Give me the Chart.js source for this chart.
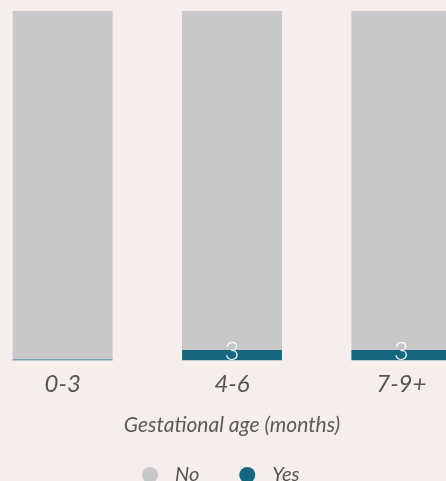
<!DOCTYPE html>
<html>
<head>
<meta charset="utf-8">
<script src="https://cdn.jsdelivr.net/npm/chart.js@4.4.1/dist/chart.umd.min.js"></script>
<style>
  html, body { margin: 0; padding: 0; background: #f5eeeb; overflow: hidden; width: 446px; height: 481px; }
  #wrap { position: absolute; left: -22px; top: 0; width: 508px; height: 481px; }
</style>
</head>
<body>
<div id="wrap"><canvas id="chart" width="508" height="481"></canvas></div>
<script>
// Share of pregnancies by gestational age (percent, each bar sums to 100)
const categories = ['0-3', '4-6', '7-9+'];
const seriesNames = ['No', 'Yes'];
const noValues = [99.7, 97, 97];
const yesValues = [0.3, 3, 3];

const COLOR_NO = '#c8c8cb';
const COLOR_YES = '#14677f';
const TEXT_COLOR = '#555555';

// Writes the rounded "Yes" share at the base of each bar
const yesLabels = {
  id: 'yesLabels',
  afterDatasetsDraw(chart) {
    const ctx = chart.ctx;
    const meta = chart.getDatasetMeta(0);
    ctx.save();
    ctx.font = '300 25px Lato';
    ctx.fillStyle = '#ffffff';
    ctx.textAlign = 'center';
    ctx.textBaseline = 'alphabetic';
    meta.data.forEach((bar, i) => {
      const v = Math.round(yesValues[i]);
      if (v < 1) return;
      ctx.fillText(String(v), bar.x, bar.base - 0.5);
    });
    ctx.restore();
  }
};

// Legend row: circle marker followed by the series name
const dotLegend = {
  id: 'dotLegend',
  afterDraw(chart) {
    const ctx = chart.ctx;
    const area = chart.chartArea;
    const items = [
      { text: seriesNames[0], color: COLOR_NO },
      { text: seriesNames[1], color: COLOR_YES }
    ];
    const cy = 475;
    let x = (area.left + area.right) / 2 - 90;
    ctx.save();
    ctx.font = 'italic 20px Lato';
    ctx.textBaseline = 'alphabetic';
    ctx.textAlign = 'left';
    items.forEach(item => {
      ctx.beginPath();
      ctx.arc(x + 8, cy, 8, 0, Math.PI * 2);
      ctx.fillStyle = item.color;
      ctx.fill();
      ctx.fillStyle = TEXT_COLOR;
      ctx.fillText(item.text, x + 33, cy + 6);
      x += 33 + ctx.measureText(item.text).width + 40;
    });
    ctx.restore();
  }
};

new Chart(document.getElementById('chart'), {
  type: 'bar',
  data: {
    labels: categories,
    datasets: [
      { label: seriesNames[1], data: yesValues, backgroundColor: COLOR_YES },
      { label: seriesNames[0], data: noValues, backgroundColor: COLOR_NO }
    ]
  },
  plugins: [yesLabels, dotLegend],
  options: {
    responsive: false,
    animation: false,
    layout: { padding: { top: 11, left: 0, right: 0, bottom: 39.5 } },
    datasets: { bar: { categoryPercentage: 1, barPercentage: 0.59 } },
    scales: {
      x: {
        stacked: true,
        grid: { display: false, drawTicks: false },
        border: { display: false },
        ticks: {
          color: TEXT_COLOR,
          padding: 9,
          font: { family: 'Lato', size: 24, style: 'italic' }
        },
        title: {
          display: true,
          text: 'Gestational age (months)',
          color: '#5a5a5a',
          padding: { top: 5, bottom: 4 },
          font: { family: 'Lato', size: 21, style: 'italic' }
        }
      },
      y: {
        stacked: true,
        display: false,
        min: 0,
        max: 100
      }
    },
    plugins: {
      tooltip: { enabled: false },
      legend: { display: false }
    }
  }
});
</script>
</body>
</html>
